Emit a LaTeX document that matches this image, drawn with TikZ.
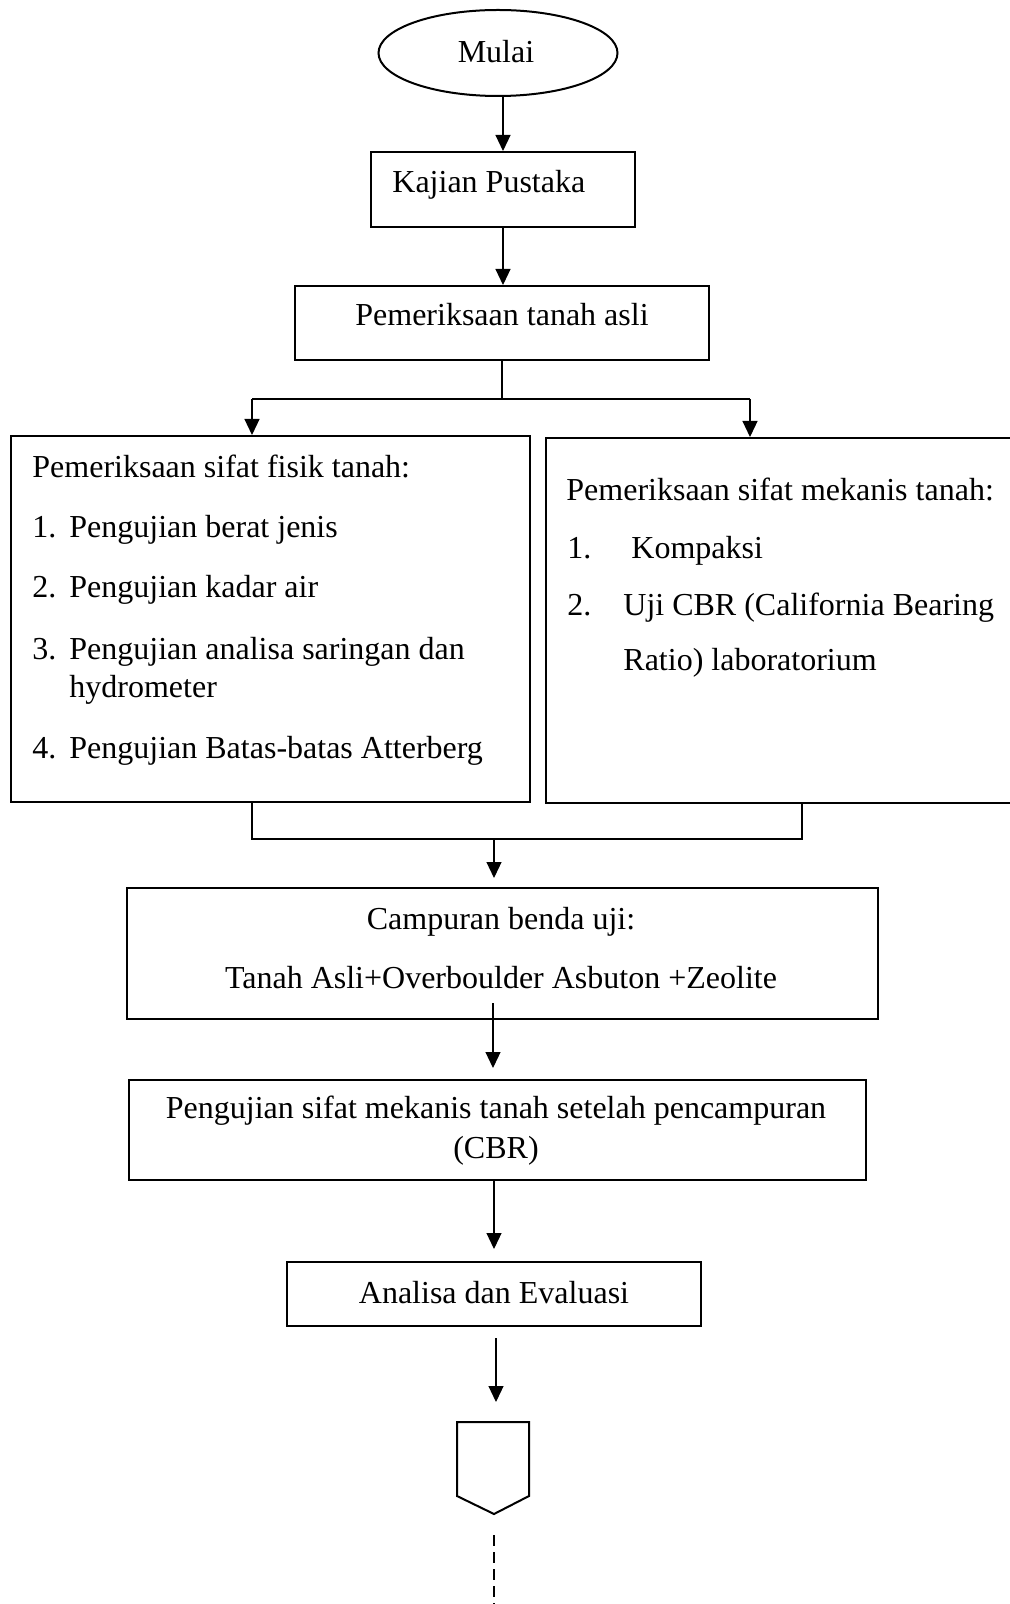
\documentclass[tikz,border=0pt]{standalone}
\usepackage{fontspec}
\setmainfont{Liberation Serif}
\usetikzlibrary{arrows.meta,fit,shapes.geometric}
\begin{document}
\begin{tikzpicture}[x=0.5pt,y=-0.5pt,
  box/.style={draw, line width=1pt, inner sep=0pt, rectangle},
  conn/.style={line width=0.6pt},
  arr/.style={conn, -{Triangle[length=8pt,width=7.5pt]}},
  txt/.style={inner sep=0pt, font=\fontsize{16}{19}\selectfont, anchor=base west},
  ctxt/.style={inner sep=0pt, font=\fontsize{16}{19}\selectfont, anchor=base}]
\useasboundingbox (0,0) rectangle (1009,1604);

% nodes
\node[draw, line width=1pt, ellipse, inner sep=0pt, minimum width=119.5pt, minimum height=43pt] (start) at (498,53) {};
\node[ctxt] (tstart) at (496,63) {Mulai};

\node[box, fit={(371,152) (635,227)}] (kaj) {};
\node[txt] (tkaj) at (392,193) {Kajian Pustaka};

\node[box, fit={(295,286) (709,360)}] (asli) {};
\node[ctxt] (tasli) at (502,326) {Pemeriksaan tanah asli};

\node[box, fit={(11,436) (530,802)}] (fisik) {};
\node[txt] (f0) at (32,477) {Pemeriksaan sifat fisik tanah:};
\node[txt] (f1n) at (32,537) {1.};
\node[txt] (f1) at (69,537) {Pengujian berat jenis};
\node[txt] (f2n) at (32,597) {2.};
\node[txt] (f2) at (69,597) {Pengujian kadar air};
\node[txt] (f3n) at (32,659) {3.};
\node[txt] (f3) at (69,659) {Pengujian analisa saringan dan};
\node[txt] (f3b) at (69,697) {hydrometer};
\node[txt] (f4n) at (32,758) {4.};
\node[txt] (f4) at (69,758) {Pengujian Batas-batas Atterberg};

\node[box, fit={(546,438) (1011,803)}] (mekanis) {};
\node[txt] (m0) at (566,500) {Pemeriksaan sifat mekanis tanah:};
\node[txt] (m1n) at (567,558) {1.};
\node[txt] (m1) at (631,558) {Kompaksi};
\node[txt] (m2n) at (567,615) {2.};
\node[txt] (m2) at (623,615) {Uji CBR (California Bearing};
\node[txt] (m2b) at (623,670) {Ratio) laboratorium};

\node[box, fit={(127,888) (878,1019)}] (campur) {};
\node[ctxt] (c1) at (501,929) {Campuran benda uji:};
\node[ctxt] (c2) at (501,988) {Tanah Asli+Overboulder Asbuton +Zeolite};

\node[box, fit={(129,1080) (866,1180)}] (uji) {};
\node[ctxt] (u1) at (496,1118) {Pengujian sifat mekanis tanah setelah pencampuran};
\node[ctxt] (u2) at (496,1158) {(CBR)};

\node[box, fit={(287,1262) (701,1326)}] (anal) {};
\node[ctxt] (ta) at (494,1303) {Analisa dan Evaluasi};

% off-page connector
\draw[line width=1pt] (457,1422) -- (529,1422) -- (529,1496) -- (494,1514) -- (457,1496) -- cycle;
\coordinate (offtop) at (496,1422);
\coordinate (offbot) at (494,1514);
\coordinate (dend) at (494,1608);

% connectors
\coordinate (j1) at (502,399);
\coordinate (jl) at (252,399);
\coordinate (jr) at (750,399);
\coordinate (jbl) at (252,839);
\coordinate (jbr) at (802,839);
\coordinate (jm) at (494,839);
\coordinate (cs) at (493,1003);

\draw[arr] (kaj.north |- start.south) -- (kaj.north);
\draw[arr] (kaj.south) -- (kaj.south |- asli.north);
\draw[conn] (asli.south -| j1) -- (j1);
\draw[conn] (jl) -- (jr);
\draw[arr] (jl) -- (jl |- fisik.north);
\draw[arr] (jr) -- (jr |- mekanis.north);
\draw[conn] (jbl |- fisik.south) -- (jbl) -- (jbr) -- (jbr |- mekanis.south);
\draw[arr, shorten >=4.5pt] (jm) -- (jm |- campur.north);
\draw[arr, shorten >=5.5pt] (cs) -- (cs |- uji.north);
\draw[arr, shorten >=6pt] (uji.south -| anal.south) -- (anal.north);
\draw[arr, shorten <=5.5pt, shorten >=10pt] (anal.south -| offtop) -- (offtop);
\draw[line width=1pt, dash pattern=on 5.5pt off 3pt, shorten <=10.5pt] (offbot) -- (dend);
\end{tikzpicture}
\end{document}
